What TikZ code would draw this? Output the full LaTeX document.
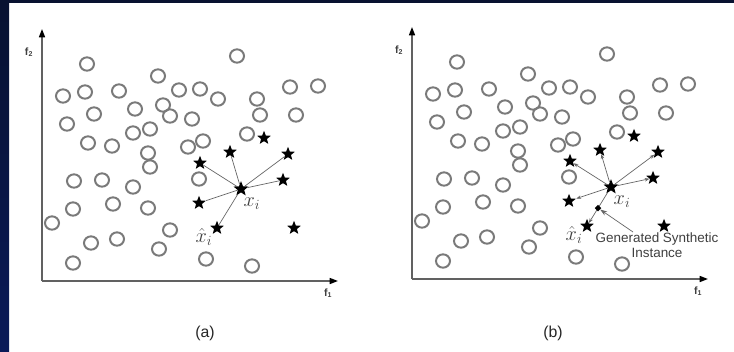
\documentclass[tikz,border=0pt]{standalone}
\usepackage{fontspec}
\setmainfont{Liberation Sans}
\usetikzlibrary{calc,shapes.geometric,arrows.meta}
\definecolor{framedark}{RGB}{8,18,48}
\definecolor{framelow}{RGB}{10,26,88}

% rings, axes and stars of one panel (pixel units, y downwards)
\newcommand\scatterpanel{%
	\foreach \cx/\cy in {237/56, 87/64, 158/76, 63/96, 85/92, 119/91, 179/90, 200/89,
		218/99, 290/87, 318/86, 94/114, 135/109, 163/105, 170/116, 192/119, 257/99,
		260/115, 296/115, 67/124, 133/133, 150/129, 88/143, 112/146, 148/153, 150/167,
		188/147, 203/141, 247/134, 74/181, 102/180, 133/187, 199/179, 73/209, 113/204,
		148/208, 52/223, 170/230, 91/243, 117/239, 159/249, 73/263, 206/259, 252/266}
		\draw[ring] (\cx,\cy) ellipse [x radius=0.21cm, y radius=0.2cm];
	
	\draw[axis] (42,281) -- (42,29);
	\draw[axis] (42,281) -- (338,281);
	\node[axlbl] (f2) at (29,52) {f\textsubscript{2}};
	\node[axlbl] (f1) at (328,293) {f\textsubscript{1}};
	
	\node[minor, minimum size=0.47cm] (xi) at (241,189) {};
	\node[minor] (s1) at (200,163) {};
	\node[minor] (s2) at (230,152) {};
	\node[minor] (s3) at (264,138) {};
	\node[minor] (s4) at (288,154) {};
	\node[minor] (s5) at (283,180) {};
	\node[minor] (s6) at (199,203) {};
	\node[minor] (s7) at (217,228) {};
	\node[minor] (s8) at (294,228) {};
	
	\node[mathlbl] (xilbl) at ($(xi)+(11,15)$) {$x_i$};
	\node[mathlbl] (xhatlbl) at ($(s7)+(-13,9)$) {$\hat{x}_i$};
}

\begin{document}
\begin{tikzpicture}[x=0.03cm, y=-0.03cm,
	ring/.style={draw=black!52, line width=1.7pt},
	axis/.style={draw=black!62, line width=1.3pt, -{Triangle[length=0.25cm, width=0.18cm, black]}},
	axlbl/.style={font=\fontsize{9}{10}\selectfont\bfseries, text=black!75, inner sep=1pt},
	minor/.style={star, star points=5, star point ratio=2.3, fill=black, inner sep=0pt, minimum size=0.43cm},
	link/.style={draw=black!60, line width=0.6pt},
	mathlbl/.style={font=\fontsize{17}{20}\selectfont, text=black!75, inner sep=0pt},
	dot/.style={diamond, fill=black, inner sep=0pt, minimum size=0.2cm},
	note/.style={font=\fontsize{11.5}{12.8}\selectfont, text=black!75, align=center, inner sep=0pt},
	caption/.style={font=\fontsize{13.5}{16}\selectfont, text=black!85}]
	
	%%%%% frame %%%%%
	\fill[white] (0,0) rectangle (734,351);
	\shade[top color=framedark, bottom color=framelow] (0,0) rectangle (9,351);
	\fill[framedark] (9,0) rectangle (734,3);
	
	%%%%% (a) %%%%%
	\begin{scope}[name prefix=a-]
		\scatterpanel
		\foreach \s in {s1,s2,s4,s5,s6,s7}
			\draw[link] (xi) -- (\s);
	\end{scope}
	
	%%%%% (b) %%%%%
	\begin{scope}[shift={(370,-2)}, name prefix=b-]
		\scatterpanel
		\foreach \s in {s1,s2,s4,s5,s6,s7}
			\draw[link, -{Stealth[length=4pt, width=3pt]}] (xi) -- (\s);
		\node[dot] (syn) at ($(xi)!0.54!(s7)$) {};
		\node[note] (gen) at (287,247) {Generated Synthetic\\Instance};
		\coordinate (gentail) at (263,234);
		\draw[link, -{Stealth[length=6pt, width=4pt]}] (gentail) -- (syn);
	\end{scope}
	
	\node[caption] (capa) at (205,333) {(a)};
	\node[caption] (capb) at (553,333) {(b)};
\end{tikzpicture}
\end{document}
